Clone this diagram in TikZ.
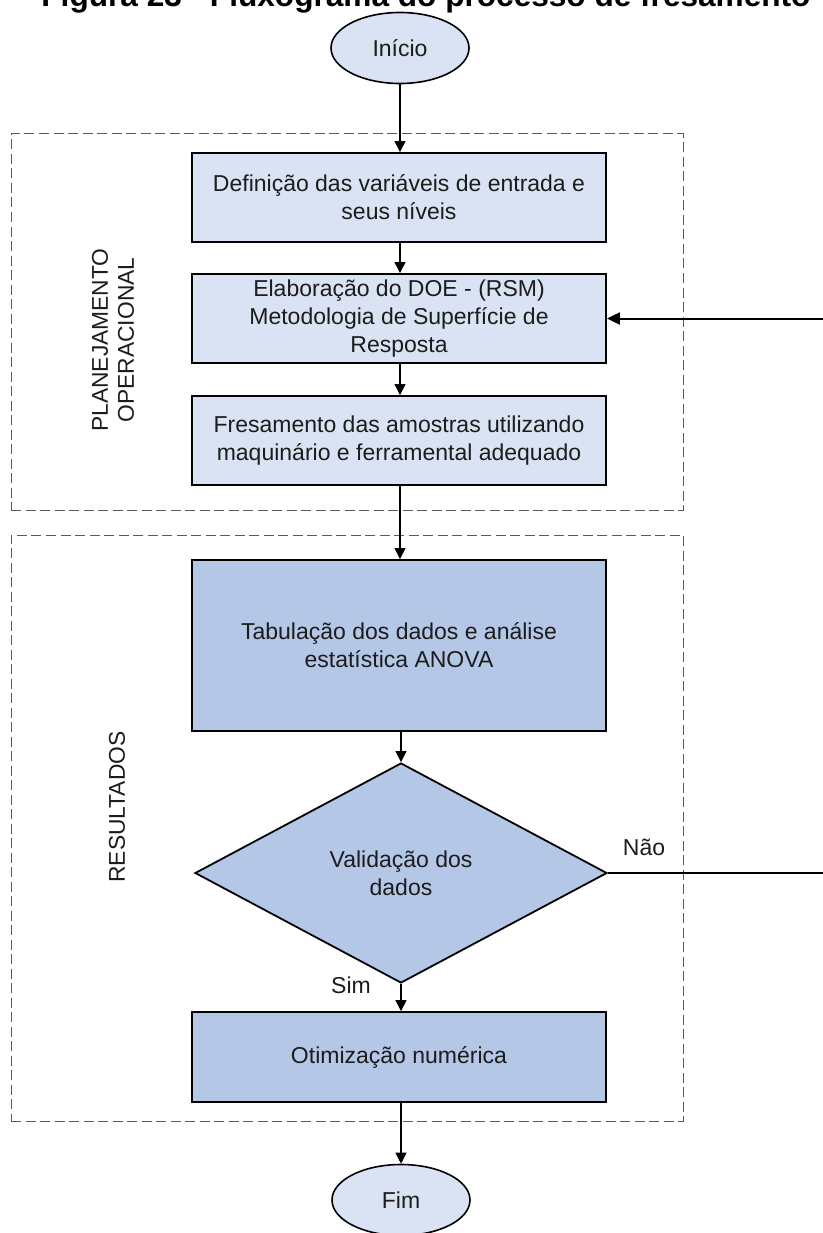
\documentclass[tikz,border=0pt]{standalone}
\usepackage{fontspec}
\setmainfont{Liberation Sans}
\usetikzlibrary{arrows.meta,shapes.geometric}
\definecolor{lightfill}{RGB}{218,227,243}
\definecolor{darkfill}{RGB}{180,199,231}
\definecolor{txt}{RGB}{28,28,28}
\definecolor{framegray}{RGB}{90,90,90}
\newcommand{\boxfont}{\fontsize{23}{28}\selectfont}
\begin{document}
\begin{tikzpicture}[x=1pt,y=-1pt,
  flowbox/.style={draw=black, line width=1.8pt, minimum width=414pt, text=txt,
    align=center, font=\boxfont, inner sep=0pt},
  lightbox/.style={flowbox, fill=lightfill},
  darkbox/.style={flowbox, fill=darkfill},
  term/.style={ellipse, draw=black, line width=1.6pt, fill=lightfill,
    minimum width=138pt, minimum height=71pt, inner sep=0pt, text=txt, font=\boxfont},
  decision/.style={diamond, draw=black, line width=1.8pt, fill=darkfill,
    minimum width=412pt, minimum height=220pt, inner sep=0pt, text=txt,
    align=center, font=\boxfont},
  arr/.style={draw=black, line width=1.1pt, -{Triangle[length=11pt,width=11pt]}},
  fb/.style={draw=black, line width=2pt, -{Triangle[length=13pt,width=12pt]}},
  frame/.style={draw=framegray, line width=1pt, dash pattern=on 10pt off 4.5pt,
    inner sep=0pt},
  lbl/.style={text=txt, font=\fontsize{22.8}{26}\selectfont, align=center, inner sep=0pt},
  small/.style={text=txt, font=\boxfont, inner sep=0pt}
]
\useasboundingbox (0,0) rectangle (822,1233);

% title (cut at top)
\node[anchor=base, inner sep=0pt, text=black,
  font=\fontsize{31.6}{36}\selectfont\bfseries] (ttl) at (426,7)
  {Figura 23 - Fluxograma do processo de fresamento};

% frames
\node[frame, minimum width=672pt, minimum height=376pt] (sec1) at (347,322) {};
\node[frame, minimum width=672pt, minimum height=586pt] (sec2) at (347,828) {};

% side labels
\node[lbl, rotate=90] (plan) at (113,340) {PLANEJAMENTO\\OPERACIONAL};
\node[lbl, rotate=90] (res) at (117,807) {RESULTADOS};

% nodes
\node[term] (ini) at (400,48) {Início};
\node[lightbox, minimum height=89pt] (b1) at (399,197.5)
  {Definição das variáveis de entrada e\\seus níveis};
\node[lightbox, minimum height=89pt] (b2) at (399,318.5)
  {Elaboração do DOE - (RSM)\\Metodologia de Superfície de\\Resposta};
\node[lightbox, minimum height=89pt] (b3) at (399,440.5)
  {Fresamento das amostras utilizando\\maquinário e ferramental adequado};
\node[darkbox, minimum height=171pt] (b4) at (399,645.5)
  {Tabulação dos dados e análise\\estatística ANOVA};
\node[decision] (dia) at (401,873) {Validação dos\\dados};
\node[darkbox, minimum height=90pt] (b5) at (399,1057) {Otimização numérica};
\node[term] (fim) at (401,1200) {Fim};

\node[small] (nao) at (644,847) {Não};
\node[small] (sim) at (351,985) {Sim};

% connectors
\draw[arr] (ini.south) -- (b1.north -| ini.south);
\draw[arr] (b1.south -| ini.south) -- (b2.north -| ini.south);
\draw[arr] (b2.south -| ini.south) -- (b3.north -| ini.south);
\draw[arr] (b3.south -| ini.south) -- (b4.north -| ini.south);
\draw[arr] (b4.south -| dia.north) -- (dia.north);
\draw[arr] (dia.south) -- (b5.north -| dia.south);
\draw[arr] (b5.south -| fim.north) -- (fim.north);

\coordinate (fbR) at (826,873);
\draw[fb] (dia.east) -- (fbR) |- (b2.east);
\end{tikzpicture}
\end{document}
